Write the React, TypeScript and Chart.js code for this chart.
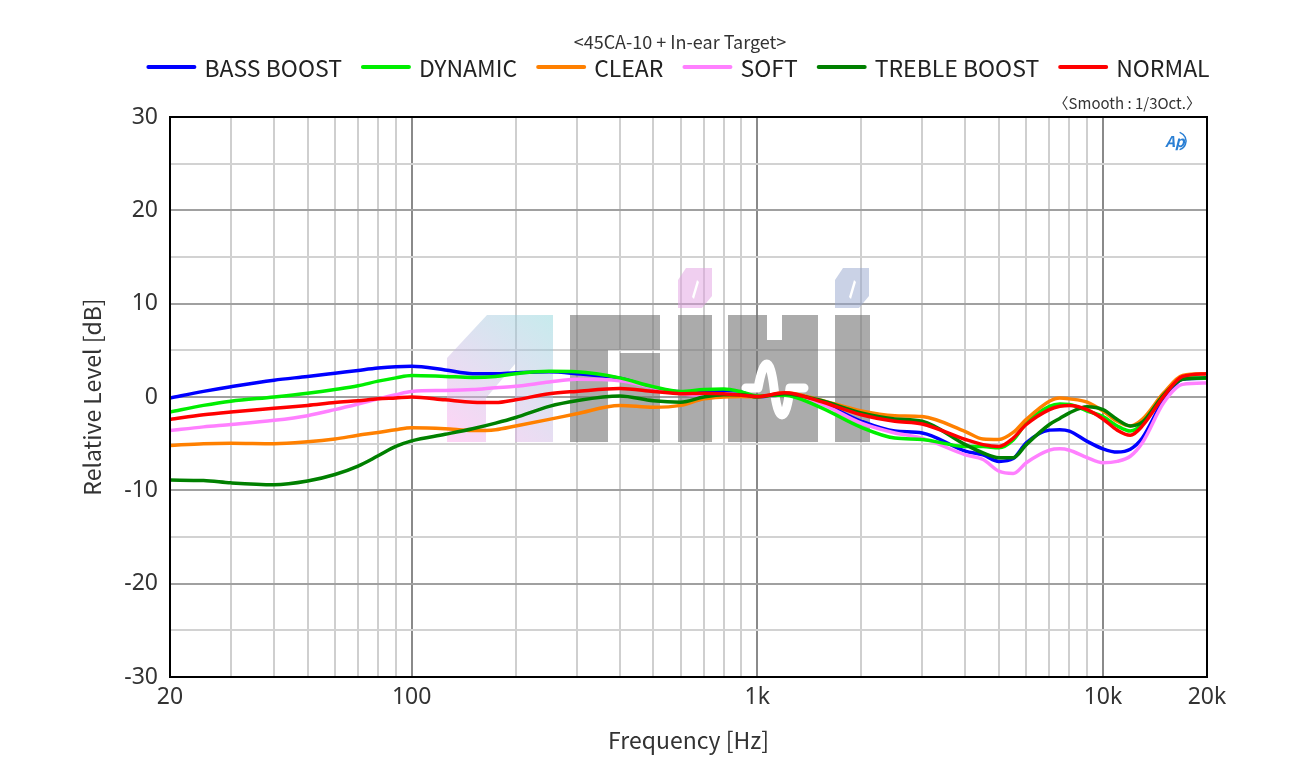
import React, { useEffect, useRef } from 'react';
import { Chart, registerables } from 'chart.js';

Chart.register(...registerables);

const FREQ = [20, 25, 30, 40, 50, 60, 70, 80, 90, 100, 125, 150, 175, 200, 250, 300, 400, 500, 600, 700, 800, 900, 1000, 1200, 1500, 2000, 2500, 3000, 4000, 4500, 5000, 5500, 6000, 7000, 7500, 8000, 9000, 10000, 11000, 12000, 13000, 15000, 17000, 20000];

const BASS_BOOST = [-0.1, 0.6, 1.1, 1.8, 2.2, 2.55, 2.85, 3.1, 3.25, 3.3, 2.9, 2.5, 2.5, 2.6, 2.7, 2.5, 2.0, 1.0, 0.55, 0.6, 0.7, 0.5, 0.0, 0.25, -0.5, -2.6, -3.65, -3.85, -5.8, -6.2, -6.9, -6.6, -4.9, -3.55, -3.5, -3.65, -4.75, -5.55, -5.9, -5.6, -4.4, -0.3, 1.9, 2.0];
const DYNAMIC = [-1.6, -0.9, -0.45, 0.0, 0.4, 0.8, 1.2, 1.7, 2.05, 2.3, 2.2, 2.1, 2.2, 2.5, 2.75, 2.7, 2.05, 1.1, 0.6, 0.8, 0.85, 0.55, 0.1, 0.2, -1.0, -3.25, -4.4, -4.55, -5.3, -5.3, -5.45, -4.6, -2.8, -1.0, -0.75, -0.8, -1.5, -2.1, -3.1, -3.65, -2.9, 0.3, 2.05, 2.0];
const CLEAR = [-5.2, -5.0, -4.95, -5.0, -4.8, -4.5, -4.1, -3.8, -3.5, -3.3, -3.4, -3.6, -3.5, -3.1, -2.4, -1.8, -0.9, -1.1, -0.9, -0.2, 0.0, 0.05, 0.0, 0.45, -0.25, -1.5, -2.0, -2.1, -3.7, -4.5, -4.55, -3.8, -2.4, -0.45, -0.1, -0.2, -0.55, -1.5, -2.6, -3.1, -2.4, 0.45, 2.3, 2.5];
const SOFT = [-3.6, -3.2, -2.95, -2.5, -2.0, -1.35, -0.75, -0.2, 0.25, 0.6, 0.7, 0.8, 1.0, 1.15, 1.6, 1.9, 1.75, 1.0, 0.35, 0.2, 0.3, 0.3, 0.0, 0.2, -0.6, -2.8, -3.85, -4.4, -6.2, -6.7, -7.95, -8.2, -7.05, -5.7, -5.55, -5.7, -6.5, -7.05, -6.9, -6.35, -4.9, -0.6, 1.35, 1.5];
const TREBLE_BOOST = [-8.9, -8.95, -9.2, -9.4, -9.0, -8.3, -7.4, -6.3, -5.3, -4.7, -4.0, -3.4, -2.8, -2.2, -1.0, -0.4, 0.1, -0.4, -0.55, 0.0, 0.25, 0.25, 0.0, 0.35, -0.3, -1.7, -2.35, -2.6, -5.1, -6.0, -6.5, -6.5, -5.1, -2.95, -2.3, -1.7, -1.05, -1.35, -2.4, -3.1, -2.7, 0.25, 1.9, 2.05];
const NORMAL = [-2.4, -1.9, -1.6, -1.2, -0.9, -0.6, -0.4, -0.2, -0.1, 0.0, -0.3, -0.55, -0.6, -0.3, 0.35, 0.6, 0.9, 0.6, 0.35, 0.4, 0.35, 0.2, 0.05, 0.45, -0.4, -1.9, -2.6, -2.9, -4.55, -5.1, -5.3, -4.4, -2.95, -1.35, -1.0, -0.9, -1.35, -2.35, -3.55, -4.1, -3.1, 0.1, 2.2, 2.5];

const SERIES_NAMES = ['BASS BOOST', 'DYNAMIC', 'CLEAR', 'SOFT', 'TREBLE BOOST', 'NORMAL'];
const SERIES_VALUES = [BASS_BOOST, DYNAMIC, CLEAR, SOFT, TREBLE_BOOST, NORMAL];
const SERIES_COLORS = ['#0000ff', '#00ee00', '#ff8000', '#ff80ff', '#008000', '#ff0000'];
const SERIES_ORDER = [5, 3, 2, 4, 1, 0];

const X_GRID_TICKS = [20, 30, 40, 50, 60, 70, 80, 90, 100, 200, 300, 400, 500, 600, 700, 800, 900, 1000, 2000, 3000, 4000, 5000, 6000, 7000, 8000, 9000, 10000, 20000];
const X_MAJOR = [100, 1000, 10000];
const X_LABELS: Record<number, string> = { 20: '20', 100: '100', 1000: '1k', 10000: '10k', 20000: '20k' };

const TITLE = '<45CA-10 + In-ear Target>';
const SUBNOTE = '〈Smooth : 1/3Oct.〉';
const X_TITLE = 'Frequency [Hz]';
const Y_TITLE = 'Relative Level [dB]';
const FONT = "'Noto Sans CJK KR', 'Noto Sans', sans-serif";
const TICK_FONT = "'Noto Sans', sans-serif";

function drawWatermark(ctx: CanvasRenderingContext2D) {
  ctx.save();
  const g = ctx.createLinearGradient(447, 442, 553, 315);
  g.addColorStop(0, 'rgba(255,160,235,0.45)');
  g.addColorStop(1, 'rgba(130,210,215,0.45)');
  ctx.fillStyle = g;
  ctx.beginPath();
  ctx.moveTo(447, 442);
  ctx.lineTo(447, 358);
  ctx.lineTo(487, 315);
  ctx.lineTo(553, 315);
  ctx.lineTo(553, 442);
  ctx.closePath();
  ctx.moveTo(486, 442);
  ctx.lineTo(486, 398);
  ctx.lineTo(515, 364);
  ctx.lineTo(515, 442);
  ctx.closePath();
  ctx.fill('evenodd');

  ctx.fillStyle = 'rgba(115,115,115,0.6)';
  ctx.fillRect(570, 315, 38, 127);
  ctx.fillRect(608, 315, 52, 35);
  ctx.fillRect(620, 353, 40, 89);
  ctx.fillRect(678, 315, 34, 127);
  ctx.beginPath();
  ctx.moveTo(728, 315);
  ctx.lineTo(767, 315);
  ctx.lineTo(767, 340);
  ctx.lineTo(782, 340);
  ctx.lineTo(782, 315);
  ctx.lineTo(818, 315);
  ctx.lineTo(818, 442);
  ctx.lineTo(728, 442);
  ctx.closePath();
  ctx.fill();
  ctx.fillRect(835, 315, 35, 127);

  const dot = (x: number, c: string) => {
    ctx.fillStyle = c;
    ctx.beginPath();
    ctx.moveTo(x + 8, 268);
    ctx.lineTo(x + 34, 268);
    ctx.lineTo(x + 34, 296);
    ctx.lineTo(x + 24, 308);
    ctx.lineTo(x, 308);
    ctx.lineTo(x, 280);
    ctx.closePath();
    ctx.moveTo(x + 19, 280);
    ctx.lineTo(x + 14, 297);
    ctx.lineTo(x + 16, 299);
    ctx.lineTo(x + 21, 282);
    ctx.closePath();
    ctx.fill('evenodd');
  };
  dot(678, 'rgba(225,160,225,0.5)');
  dot(835, 'rgba(150,165,205,0.5)');

  ctx.strokeStyle = '#ffffff';
  ctx.lineWidth = 9;
  ctx.lineCap = 'round';
  ctx.lineJoin = 'round';
  ctx.beginPath();
  ctx.moveTo(746, 388);
  ctx.lineTo(758, 388);
  ctx.bezierCurveTo(764, 356, 770, 356, 774, 388);
  ctx.bezierCurveTo(778, 424, 786, 424, 790, 388);
  ctx.lineTo(804, 388);
  ctx.stroke();
  ctx.restore();
}

const decorPlugin = {
  id: 'decor',
  beforeDatasetsDraw(chart: any) {
    drawWatermark(chart.ctx);
  },
  afterDatasetsDraw(chart: any) {
    const { ctx, chartArea } = chart;
    ctx.save();
    ctx.strokeStyle = '#000';
    ctx.lineWidth = 2;
    ctx.strokeRect(chartArea.left, chartArea.top, chartArea.right - chartArea.left, chartArea.bottom - chartArea.top);
    ctx.restore();
  },
  afterDraw(chart: any) {
    const { ctx, chartArea } = chart;
    ctx.save();
    ctx.textBaseline = 'middle';
    ctx.fillStyle = '#333';
    ctx.font = `18px ${FONT}`;
    ctx.textAlign = 'center';
    ctx.fillText(TITLE, 680, 42);
    ctx.font = `23px ${FONT}`;
    const lineLen = 50, gap = 8, spacing = 19;
    const widths = SERIES_NAMES.map((n) => ctx.measureText(n).width);
    const total = widths.reduce((a, w) => a + lineLen + gap + w, 0) + spacing * (SERIES_NAMES.length - 1);
    let x = 678 - total / 2;
    const y = 67;
    ctx.textAlign = 'left';
    SERIES_NAMES.forEach((n, i) => {
      ctx.strokeStyle = SERIES_COLORS[i];
      ctx.lineWidth = 4;
      ctx.lineCap = 'round';
      ctx.beginPath();
      ctx.moveTo(x + 2, y);
      ctx.lineTo(x + lineLen - 2, y);
      ctx.stroke();
      ctx.fillStyle = '#222';
      ctx.fillText(n, x + lineLen + gap, y + 1);
      x += lineLen + gap + widths[i] + spacing;
    });
    ctx.font = `15px ${FONT}`;
    ctx.textAlign = 'right';
    ctx.fillStyle = '#333';
    ctx.fillText(SUBNOTE, chartArea.right - 6, chartArea.top - 14);
    ctx.font = `italic bold 15px ${FONT}`;
    ctx.fillStyle = '#2a7fd4';
    ctx.textAlign = 'center';
    ctx.fillText('Ap', chartArea.right - 32, chartArea.top + 24);
    ctx.strokeStyle = '#2a7fd4';
    ctx.lineWidth = 1.5;
    ctx.beginPath();
    ctx.arc(chartArea.right - 30, chartArea.top + 24, 9, -Math.PI / 2.6, Math.PI / 2.6);
    ctx.stroke();
    ctx.fillStyle = '#333';
    ctx.font = `23px ${FONT}`;
    ctx.textAlign = 'center';
    ctx.fillText(X_TITLE, (chartArea.left + chartArea.right) / 2, 740);
    ctx.translate(92, (chartArea.top + chartArea.bottom) / 2);
    ctx.rotate(-Math.PI / 2);
    ctx.fillText(Y_TITLE, 0, 0);
    ctx.restore();
  },
};

export default function App() {
  const ref = useRef<HTMLCanvasElement>(null);
  useEffect(() => {
    if (!ref.current) return;
    const chart = new Chart(ref.current, {
      type: 'line',
      data: {
        datasets: SERIES_NAMES.map((name, i) => ({
          label: name,
          data: FREQ.map((f, j) => ({ x: f, y: SERIES_VALUES[i][j] })),
          borderColor: SERIES_COLORS[i],
          backgroundColor: SERIES_COLORS[i],
          borderWidth: 3.5,
          pointRadius: 0,
          cubicInterpolationMode: 'monotone',
          order: SERIES_ORDER[i],
        })),
      },
      options: {
        animation: false,
        responsive: false,
        layout: { padding: { top: 117, right: 92, left: 0, bottom: 0 } },
        plugins: { legend: { display: false }, title: { display: false }, tooltip: { enabled: false } },
        scales: {
          x: {
            type: 'logarithmic',
            min: 20,
            max: 20000,
            afterBuildTicks: (s: any) => {
              s.ticks = X_GRID_TICKS.map((v) => ({ value: v }));
            },
            afterFit: (s: any) => {
              s.height = 103;
            },
            ticks: {
              autoSkip: false,
              maxRotation: 0,
              padding: 7,
              color: '#333',
              font: { family: TICK_FONT, size: 23 },
              callback: (v: any) => X_LABELS[Number(v)] ?? '',
            },
            grid: {
              drawTicks: false,
              lineWidth: 2,
              color: (c: any) => (c.tick && X_MAJOR.includes(c.tick.value) ? '#8a8a8a' : '#cfcfcf'),
            },
            border: { display: false },
          },
          y: {
            min: -30,
            max: 30,
            afterFit: (s: any) => {
              s.width = 170;
            },
            ticks: {
              stepSize: 5,
              padding: 12,
              color: '#333',
              font: { family: TICK_FONT, size: 23 },
              callback: (v: any) => (Number(v) % 10 === 0 ? String(v) : ''),
            },
            grid: {
              drawTicks: false,
              lineWidth: 2,
              color: (c: any) => (c.tick && c.tick.value % 10 === 0 ? '#a0a0a0' : '#d2d2d2'),
            },
            border: { display: false },
          },
        },
      },
      plugins: [decorPlugin],
    } as any);
    return () => chart.destroy();
  }, []);
  return (
    <div style={{ position: 'fixed', left: 0, top: 0, width: 1299, height: 780, background: '#fff' }}>
      <canvas ref={ref} width={1299} height={780} />
    </div>
  );
}
